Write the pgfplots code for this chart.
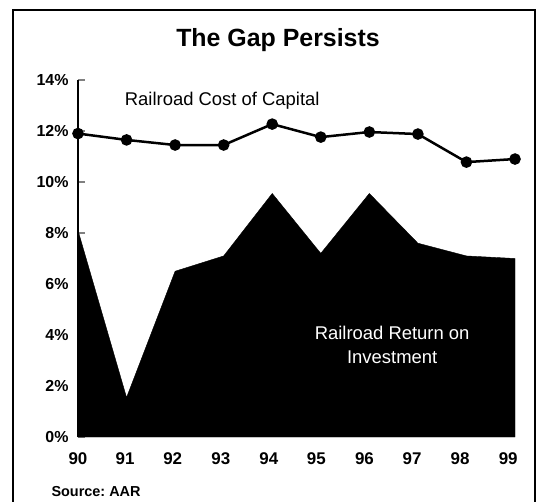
\documentclass[border=0pt]{standalone}
\usepackage{fontspec}
\setmainfont{Liberation Sans}
\usepackage{pgfplots}
\pgfplotsset{compat=1.18}
\begin{document}
\begin{tikzpicture}[x=1bp,y=1bp]
\useasboundingbox (-78,-65) rectangle (461,437);
\draw[line width=1.5bp] (-65,-90) rectangle (457,427);
\begin{axis}[
  at={(0,0)}, anchor=south west,
  scale only axis, width=437bp, height=357bp,
  xmin=90, xmax=99, ymin=0, ymax=14,
  clip=false,
  axis y line*=left, axis x line*=bottom,
  x axis line style={draw=none},
  y axis line style={line width=1.6bp},
  xtick={90,90.97,91.95,92.94,93.93,94.91,95.90,96.88,97.87,98.86},
  xticklabels={90,91,92,93,94,95,96,97,98,99},
  x tick style={draw=none},
  ytick={0,2,...,14},
  yticklabel={\pgfmathprintnumber{\tick}\%},
  tick align=inside,
  y tick style={line width=1.4bp},
  major tick length=7bp,
  /pgf/number format/assume math mode=true,
  xticklabel style={font=\bfseries\fontsize{17}{19}\selectfont, yshift=-12bp},
  yticklabel style={font=\bfseries\fontsize{16}{18}\selectfont, xshift=-6bp},
]
\addplot[fill=black, draw=black] coordinates {
(90,8.1) (91,1.55) (92,6.5) (93,7.1) (94,9.55) (95,7.2) (96,9.55) (97,7.6) (98,7.1) (99,7.0)
} \closedcycle;
\addplot[black, line width=2.5bp, mark=*, mark size=4.5bp] coordinates {
(90,11.9) (91,11.65) (92,11.45) (93,11.45) (94,12.27) (95,11.76) (96,11.96) (97,11.88) (98,10.78) (99,10.9)
};
\node[font=\fontsize{18.5}{20}\selectfont] at (axis cs:92.97,13.2) {Railroad Cost of Capital};
\node[white, align=center, font=\fontsize{18.5}{24}\selectfont] at (axis cs:96.47,3.6) {Railroad Return on\\Investment};
\end{axis}
\node[font=\bfseries\fontsize{25}{28}\selectfont] at (200,397) {The Gap Persists};
\node[anchor=west, font=\bfseries\fontsize{14.5}{16}\selectfont] at (-30,-55) {Source:~AAR};
\end{tikzpicture}
\end{document}
